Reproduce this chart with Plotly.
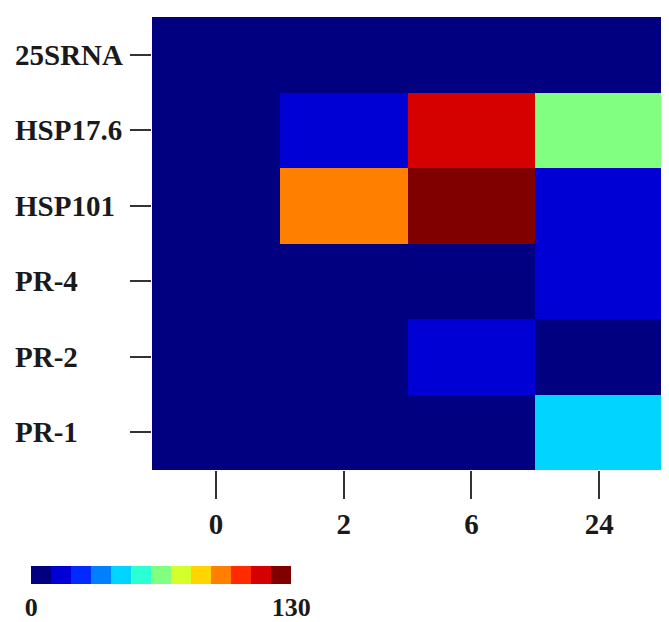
import plotly.graph_objects as go

genes = ["25SRNA", "HSP17.6", "HSP101", "PR-4", "PR-2", "PR-1"]
times = ["0", "2", "6", "24"]
val_25srna = [0, 0, 0, 0]
val_hsp176 = [0, 15, 115, 65]
val_hsp101 = [0, 95, 128, 15]
val_pr4 = [0, 0, 0, 15]
val_pr2 = [0, 0, 14, 5]
val_pr1 = [0, 0, 0, 45]
z = [val_25srna, val_hsp176, val_hsp101, val_pr4, val_pr2, val_pr1]
zmin, zmax = 0, 130
cbar_ticks = [0, 130]

def jet(t):
    def ch(x):
        return max(0.0, min(1.0, x))
    r = ch(min(4 * t - 1.5, -4 * t + 4.5))
    g = ch(min(4 * t - 0.5, -4 * t + 3.5))
    b = ch(min(4 * t + 0.5, -4 * t + 2.5))
    return "rgb(%d,%d,%d)" % (round(r * 255), round(g * 255), round(b * 255))

n = 13
colorscale = []
for i in range(n):
    c = jet(i / (n - 1))
    colorscale.append([i / n, c])
    colorscale.append([(i + 1) / n, c])

axis_font = dict(family="Liberation Serif", size=29, color="#1a1a1a", weight="bold")
cbar_font = dict(family="Liberation Serif", size=26, color="#1a1a1a", weight="bold")

# the page body has an 8px margin, so the figure is 8px smaller than the window
W, H = 661, 614
ML, MR, MT, MB = 144, 6, 9, 152
plot_w = W - ML - MR

fig = go.Figure(go.Heatmap(
    z=z, x=times, y=genes, zmin=zmin, zmax=zmax, colorscale=colorscale,
    xgap=0, ygap=0,
    colorbar=dict(
        orientation="h", xref="container", yref="container",
        x=30 / W, xanchor="left", y=1 - 558 / H, yanchor="top",
        xpad=0, ypad=0,
        lenmode="pixels", len=260, thicknessmode="pixels", thickness=18,
        tickvals=cbar_ticks, ticktext=[str(v) for v in cbar_ticks],
        ticks="", tickfont=cbar_font, outlinewidth=0,
    ),
))

# left-aligned row labels, placed on the category axis
label_x = (5 - ML) / plot_w
for g in genes:
    fig.add_annotation(x=label_x, xref="paper", y=g, yref="y", text=g,
                       showarrow=False, xanchor="left", yanchor="middle",
                       font=axis_font)

fig.update_layout(
    width=W, height=H,
    margin=dict(l=ML, r=MR, t=MT, b=MB, autoexpand=False),
    paper_bgcolor="white", plot_bgcolor="white",
    xaxis=dict(type="category", ticks="outside", ticklen=28, tickwidth=2,
               tickcolor="#333", tickfont=axis_font, ticklabelstandoff=0,
               showgrid=False, zeroline=False),
    yaxis=dict(type="category", autorange="reversed", ticks="outside", ticklen=21,
               tickwidth=2, tickcolor="#333", showticklabels=False,
               showgrid=False, zeroline=False),
)

fig.write_html("out.html")
